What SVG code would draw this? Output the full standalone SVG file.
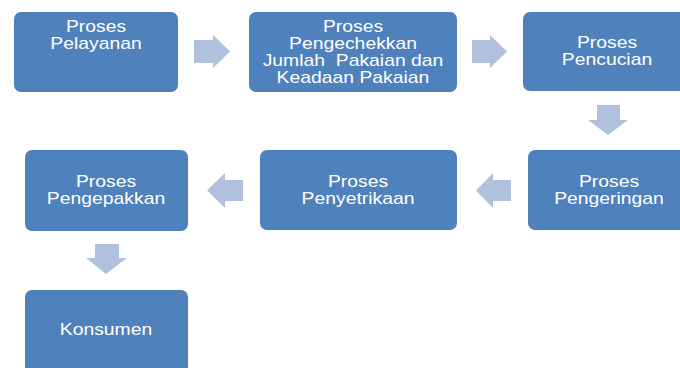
<svg xmlns="http://www.w3.org/2000/svg" width="680" height="368" viewBox="0 0 680 368">
<style>
.box{fill:#4F81BD;}
.arr{fill:#B0C1DE;}
.t{font-family:"Liberation Sans",Arial,sans-serif;font-size:16px;fill:#FFFFFF;text-anchor:middle;}
</style>
<rect width="680" height="368" fill="#FFFFFF"/>
<g id="connectors">
<polygon class="arr" points="194,40 213,40 213,35 230,51.5 213,68 213,63 194,63"/>
<polygon class="arr" points="472,40 490,40 490,35 507,51.5 490,68 490,63 472,63"/>
<polygon class="arr" points="597,105 620,105 620,120 628,120 608,135 588,120 597,120"/>
<polygon class="arr" points="511,180 493,180 493,173 476,190.5 493,208 493,201 511,201"/>
<polygon class="arr" points="243,180 225,180 225,173 207,190.5 225,208 225,201 243,201"/>
<polygon class="arr" points="95,244 119,244 119,258 127,258 106,274 86,258 95,258"/>
</g>
<g id="n1">
<rect class="box" x="14" y="12" width="164" height="80" rx="7"/>
<text class="t" transform="translate(96,32) scale(1.21,1)">Proses</text>
<text class="t" transform="translate(96,49) scale(1.21,1)">Pelayanan</text>
</g>
<g id="n2">
<rect class="box" x="249" y="12" width="208" height="80" rx="7"/>
<text class="t" transform="translate(353,31.5) scale(1.21,1)">Proses</text>
<text class="t" transform="translate(353,48.5) scale(1.21,1)">Pengechekkan</text>
<text class="t" xml:space="preserve" transform="translate(353,65.5) scale(1.21,1)">Jumlah  Pakaian dan</text>
<text class="t" transform="translate(353,82.5) scale(1.21,1)">Keadaan Pakaian</text>
</g>
<g id="n3">
<rect class="box" x="523" y="12" width="170" height="79" rx="7"/>
<text class="t" transform="translate(607,48) scale(1.21,1)">Proses</text>
<text class="t" transform="translate(607,65) scale(1.21,1)">Pencucian</text>
</g>
<g id="n4">
<rect class="box" x="528" y="150" width="164" height="80" rx="7"/>
<text class="t" transform="translate(609,187) scale(1.21,1)">Proses</text>
<text class="t" transform="translate(609,204) scale(1.21,1)">Pengeringan</text>
</g>
<g id="n5">
<rect class="box" x="260" y="150" width="197" height="80" rx="7"/>
<text class="t" transform="translate(358,187) scale(1.21,1)">Proses</text>
<text class="t" transform="translate(358,204) scale(1.21,1)">Penyetrikaan</text>
</g>
<g id="n6">
<rect class="box" x="25" y="150" width="163" height="81" rx="7"/>
<text class="t" transform="translate(106,187) scale(1.21,1)">Proses</text>
<text class="t" transform="translate(106,204) scale(1.21,1)">Pengepakkan</text>
</g>
<g id="n7">
<rect class="box" x="25" y="290" width="163" height="90" rx="7"/>
<text class="t" transform="translate(106,335) scale(1.21,1)">Konsumen</text>
</g>
</svg>
